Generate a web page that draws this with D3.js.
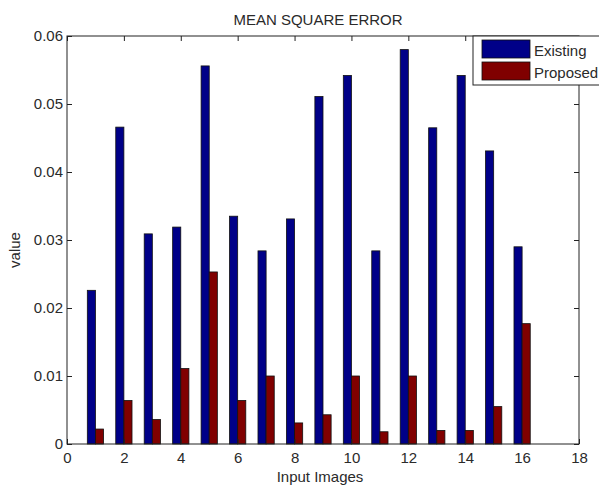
<!DOCTYPE html>
<html>
<head>
<meta charset="utf-8">
<script src="https://cdn.jsdelivr.net/npm/d3@7"></script>
<style>
  html, body { margin: 0; padding: 0; background: #fff; }
  svg { display: block; font-family: "Liberation Sans", Arial, sans-serif; }
</style>
</head>
<body>
<svg id="chart" width="599" height="488"></svg>
<script>
const images = [1,2,3,4,5,6,7,8,9,10,11,12,13,14,15,16];
const existing = [0.0226,0.0466,0.0309,0.0319,0.0556,0.0335,0.0284,0.0331,0.0511,0.0542,0.0284,0.0580,0.0465,0.0542,0.0431,0.0290];
const proposed = [0.0022,0.0064,0.0036,0.0111,0.0253,0.0064,0.0100,0.0031,0.0043,0.0100,0.0018,0.0100,0.0020,0.0020,0.0055,0.0177];
const seriesNames = ["Existing","Proposed"];
const seriesColors = ["#000088","#800000"];
const xTicks = [0,2,4,6,8,10,12,14,16,18];
const yTicks = [0,0.01,0.02,0.03,0.04,0.05,0.06];

const svg = d3.select("#chart");
const L = 67, R = 579, T = 36, B = 444;
const x = d3.scaleLinear().domain([0,18]).range([L,R]);
const y = d3.scaleLinear().domain([0,0.06]).range([B,T]);
const bw = 0.2857;
const textColor = "#2a2a2a";
const fs = "15px";

// bars
const series = [existing, proposed];
series.forEach((vals, si) => {
  svg.append("g").selectAll("rect").data(images).enter().append("rect")
    .attr("x", d => x(si === 0 ? d - bw : d))
    .attr("width", d => x(bw) - x(0))
    .attr("y", (d,i) => y(vals[i]))
    .attr("height", (d,i) => y(0) - y(vals[i]))
    .attr("fill", seriesColors[si])
    .attr("stroke", "#111")
    .attr("stroke-width", 0.8);
});

// frame
svg.append("rect").attr("x", L).attr("y", T).attr("width", R-L).attr("height", B-T)
  .attr("fill","none").attr("stroke","#222").attr("stroke-width",1);

// axes
const xAxis = svg.append("g").attr("transform", `translate(0,${B})`)
  .call(d3.axisBottom(x).tickValues(xTicks).tickSize(-5).tickPadding(8).tickFormat(d3.format("d")));
const yAxis = svg.append("g").attr("transform", `translate(${L},0)`)
  .call(d3.axisLeft(y).tickValues(yTicks).tickSize(-5).tickPadding(4).tickFormat(d => d === 0 ? "0" : d3.format(".2f")(d)));
const xTop = svg.append("g").attr("transform", `translate(0,${T})`)
  .call(d3.axisTop(x).tickValues(xTicks).tickSize(-5).tickFormat(""));
const yRight = svg.append("g").attr("transform", `translate(${R},0)`)
  .call(d3.axisRight(y).tickValues(yTicks).tickSize(-5).tickFormat(""));
[xAxis, yAxis, xTop, yRight].forEach(g => {
  g.select(".domain").remove();
  g.selectAll(".tick line").attr("stroke","#222");
  g.selectAll("text").attr("fill", textColor).style("font-size", fs)
    .style("font-family", '"Liberation Sans", Arial, sans-serif');
});

// titles
svg.append("text").attr("x", 318).attr("y", 25).attr("text-anchor","middle")
  .attr("fill", textColor).style("font-size", fs).text("MEAN SQUARE ERROR");
svg.append("text").attr("x", 320).attr("y", 482).attr("text-anchor","middle")
  .attr("fill", textColor).style("font-size", fs).text("Input Images");
svg.append("text").attr("transform","translate(20,250) rotate(-90)").attr("text-anchor","middle")
  .attr("fill", textColor).style("font-size", fs).text("value");

// legend
const lg = svg.append("g");
lg.append("rect").attr("x", 473).attr("y", T).attr("width", 140).attr("height", 49)
  .attr("fill","#fff").attr("stroke","#222").attr("stroke-width",1);
seriesNames.forEach((name, i) => {
  lg.append("rect").attr("x", 482).attr("y", 40 + i*22).attr("width", 48).attr("height", 18)
    .attr("fill", seriesColors[i]).attr("stroke","#111").attr("stroke-width",0.8);
  lg.append("text").attr("x", 534).attr("y", 56 + i*22).attr("fill", textColor)
    .style("font-size", fs).text(name);
});
</script>
</body>
</html>
